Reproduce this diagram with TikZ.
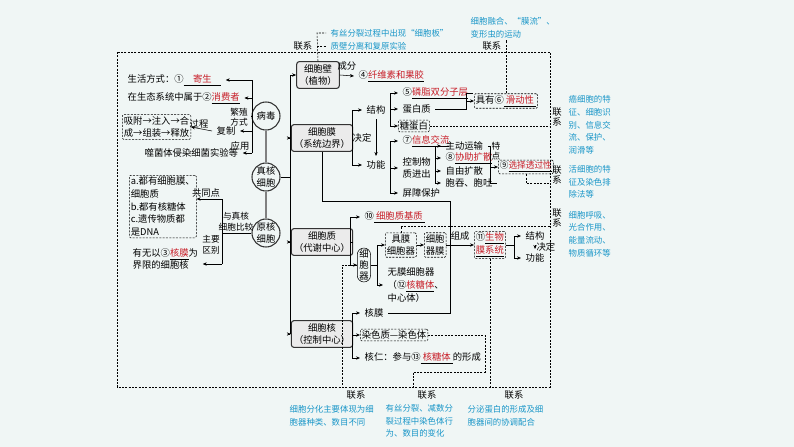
\documentclass[tikz,border=0pt]{standalone}
\usepackage{fontspec}
\setmainfont{Noto Sans CJK SC}
\usetikzlibrary{arrows.meta}
\definecolor{ansred}{RGB}{200,30,40}
\definecolor{tipblue}{RGB}{25,150,200}
\definecolor{bg}{RGB}{240,246,245}
\newcommand{\ans}[1]{\underline{\textcolor{ansred}{#1}}}

\begin{document}
\begin{tikzpicture}[x=0.75pt,y=-0.75pt,font=\fontsize{7}{9.5}\selectfont,every node/.style={align=center}]
\tikzstyle{part} = [rectangle, rounded corners=2pt, draw=black!80, fill=black!8, thick, align=center, inner sep=2pt]
\tikzstyle{kind} = [circle, draw=black!80, thick, minimum size=21pt, inner sep=0pt, align=center, font=\fontsize{7}{8.5}\selectfont]
\tikzstyle{dbox} = [draw, dash pattern=on 1.5pt off 1pt, rounded corners=1pt, inner sep=1.2pt, align=center]
\tikzstyle{tip} = [text=tipblue, align=left, anchor=west, font=\fontsize{6.3}{9.5}\selectfont]
\tikzstyle{arrow} = [->, >={Stealth[length=3pt,width=2.5pt]}]
\tikzstyle{link} = [dash pattern=on 1.5pt off 1pt]
\fill[bg] (0,0) rectangle (794,447);

% kinds of cells
\node[kind] (virus) at (266,116) {病毒};
\node[kind] (euk) at (266,177) {真核\\细胞};
\node[kind] (pro) at (266,233) {原核\\细胞};
\draw[gray, thick] (virus) -- (euk) -- (pro);

% virus
\node[anchor=west] (life) at (123,80) {生活方式：①\ans{\quad 寄生\quad}};
\node[anchor=west] (eco) at (123,98) {在生态系统中属于②\ans{消费者}};
\node[dbox, anchor=west, align=left] (proc) at (122,127) {吸附→注入→合\\成→组装→释放};
\node[anchor=west] (copy) at (212,131) {复制};
\node[anchor=west] (phage) at (140,153) {噬菌体侵染细菌实验等};
\node[font=\fontsize{6.5}{7.5}\selectfont] at (239,117) {繁殖\\方式};
\node at (240,146) {应用};
\node at (199,124) {过程};
\draw (virus.west) -- (252,116);
\draw (252,80) -- (252,153);
\draw[arrow] (252,80) -- (life.east);
\draw[arrow] (252,98) -- (eco.east);
\draw[arrow] (252,131) -- (copy.east);
\draw[arrow] (copy.west) -- (proc.east);
\draw[arrow] (252,153) -- (phage.east);

% prokaryote
\node[dbox, anchor=north west, align=left] (cmn) at (129,175) {a.都有细胞膜、\\细胞质\\b.都有核糖体\\c.遗传物质都\\是DNA};
\node[anchor=west, align=left] (diff) at (128,259) {有无以③\ans{核膜}为\\界限的细胞核};
\node at (206,193) {共同点};
\node[font=\fontsize{6.5}{8}\selectfont] at (236,222) {与真核\\细胞比较};
\node[font=\fontsize{6.5}{8}\selectfont] at (211,245) {主要\\区别};
\draw (pro.west) -- (222,233);
\draw (222,199) -- (222,264);
\draw[arrow] (222,199) -- (cmn.east |- 222,199);
\draw[arrow] (222,264) -- (diff.east |- 222,264);

% trunk
\node[part, minimum width=27pt] (wall) at (318,75) {细胞壁\\（植物）};
\node[part] (memb) at (322,138) {细胞膜\\（系统边界）};
\node[part] (cyto) at (322,242) {细胞质\\（代谢中心）};
\node[part] (nucl) at (322,334) {细胞核\\（控制中心）};
\draw (euk.east) -- (290,177);
\draw (290,75) -- (290,334);
\draw[arrow] (290,75) -- (wall.west);
\draw[arrow] (290,138) -- (memb.west);
\draw[arrow] (290,242) -- (cyto.west);
\draw[arrow] (290,334) -- (nucl.west);

% wall
\node[anchor=west] (cellu) at (354,76) {④\ans{纤维素和果胶}};
\draw[arrow] (wall.east) -- node[above] {成分} (cellu.west);

% membrane
\node[anchor=west] (struc) at (362,110) {结构};
\node[anchor=west] (func) at (362,165) {功能};
\draw (memb.east) -- (352,138);
\draw (352,110) -- (352,165);
\draw[arrow] (352,110) -- (struc.west);
\draw[arrow] (352,165) -- (func.west);
\draw[arrow] (struc.south) -- node[left] {决定} (func.north);
\node[anchor=west] (lip) at (398,93) {⑤\ans{磷脂双分子层}};
\node[anchor=west] (prot) at (398,109) {蛋白质};
\node[dbox, anchor=west] (glyc) at (398,126) {糖蛋白};
\node[dbox, anchor=west] (flu) at (474,101) {具有⑥\ans{\ 滑动性\ }};
\draw (struc.east) -- (390,110);
\draw (390,93) -- (390,126);
\draw[arrow] (390,93) -- (lip.west);
\draw[arrow] (390,109) -- (prot.west);
\draw[arrow] (390,126) -- (glyc.west);
\draw (lip.east) -| (466,109) -- (prot.east);
\draw[arrow] (466,101) -- (flu.west);
\node[anchor=west] (info) at (398,141) {⑦\ans{信息交流}};
\node[anchor=west, align=left] (ctrl) at (398,168) {控制物\\质进出};
\node[anchor=west] (barr) at (398,193) {屏障保护};
\draw (func.east) -- (390,165);
\draw (390,141) -- (390,193);
\draw[arrow] (390,141) -- (info.west);
\draw[arrow] (390,168) -- (ctrl.west);
\draw[arrow] (390,193) -- (barr.west);
\node[anchor=west] (act) at (441,146) {主动运输};
\node[anchor=west] (fac) at (441,158) {⑧\ans{协助扩散}};
\node[anchor=west] (free) at (441,171) {自由扩散};
\node[anchor=west] (endo) at (441,183) {胞吞、胞吐};
\draw (ctrl.east) -- (435,168);
\draw (435,146) -- (435,183);
\foreach \y/\n in {146/act,158/fac,171/free,183/endo}
  \draw[arrow] (435,\y) -- (\n.west);
\draw (act.east) -| (490,183) -- (endo.east);
\node[font=\fontsize{6.5}{7.5}\selectfont] at (496,151) {特\\点};
\node[dbox, anchor=west, font=\fontsize{6.5}{8}\selectfont] (sel) at (498,167) {⑨\ans{选择透过性}};
\draw[arrow] (490,167) -- (sel.west);

% cytoplasm
\node[anchor=west] (matrix) at (360,217) {⑩\ans{\ 细胞质基质\ }};
\node[draw, rounded corners=5pt, inner sep=1.5pt, anchor=west, font=\fontsize{7}{8}\selectfont] (orgn) at (357,265) {细\\胞\\器};
\draw (cyto.east) -- (350,242);
\draw (350,217) -- (350,265);
\draw[arrow] (350,217) -- (matrix.west);
\draw[arrow] (350,265) -- (orgn.west);
\node[dbox, anchor=west] (memorg) at (385,245) {具膜\\细胞器};
\node[anchor=west, align=left] (nomem) at (383,285) {无膜细胞器\\（⑫\ans{核糖体}、\\中心体）};
\draw (orgn.east) -- (377,265);
\draw (377,245) -- (377,285);
\draw[arrow] (377,245) -- (memorg.west);
\draw[arrow] (377,285) -- (nomem.west);
\node[dbox, anchor=west] (orgm) at (424,245) {细胞\\器膜};
\node[dbox, anchor=west] (bms) at (474,245) {⑪\ans{生物}\\\ans{膜系统}};
\draw[arrow] (memorg) -- (orgm);
\draw[arrow] (orgm) -- node[above] {组成} (bms);
\node[anchor=west] (s2) at (521,236) {结构};
\node[anchor=west] (f2) at (521,258) {功能};
\draw (bms.east) -- (514,245);
\draw (514,236) -- (514,258);
\draw[arrow] (514,236) -- (s2.west);
\draw[arrow] (514,258) -- (f2.west);
\draw[arrow] (s2.south) -- node[right, inner sep=1pt] {决定} (f2.north);

% nucleus
\node[anchor=west] (nm) at (360,313) {核膜};
\node[dbox, anchor=west] (chrom) at (360,335) {染色质—染色体};
\node[anchor=west] (nuc) at (360,358) {核仁：参与⑬\ans{\ 核糖体\ }的形成};
\draw (nucl.east) -- (352,334);
\draw (352,313) -- (352,358);
\draw[arrow] (352,313) -- (nm.west);
\draw[arrow] (352,335) -- (chrom.west);
\draw[arrow] (352,358) -- (nuc.west);
\draw (memb.south) |- (450,201) |- (nm.east);

% links
\node[tip] (tipA) at (326,33) {有丝分裂过程中出现“细胞板”};
\node[tip] (tipB) at (326,46) {质壁分离和复原实验};
\node[tip] (tipC) at (466,28) {细胞融合、“膜流”、\\变形虫的运动};
\draw[link] (117,52) rectangle (550,387);
\draw[link] (wall.north) -- (317,33) -- (tipA.west);
\draw[link] (317,46) -- (tipB.west);
\node[anchor=east] at (317,46) {联系};
\draw[link] (flu.north) -- (flu.north |- 0,40);
\node[anchor=east] at (flu.north |- 0,46) {联系};
\draw[link] (glyc.east) -- (550,126);
\draw[link] (sel.south) |- (550,183);
\draw[link] (memorg.north) |- (550,226);
\draw[link] (orgn.west) -| (342,387);
\draw[link] (bms.south) -- (bms.south |- 0,387);
\draw[link] (chrom.east) -| (485,372) -| (413,387);
\foreach \y in {117,175,218}
  \node[font=\fontsize{7}{8}\selectfont] at (557,\y) {联\\系};
\node[tip] at (564,125) {癌细胞的特\\征、细胞识\\别、信息交\\流、保护、\\润滑等};
\node[tip] at (564,182) {活细胞的特\\征及染色排\\除法等};
\node[tip] at (564,234) {细胞呼吸、\\光合作用、\\能量流动、\\物质循环等};
\foreach \x in {342,413,500}
  \node[anchor=west] at (\x,395) {联系};
\node[tip] at (285,416) {细胞分化主要体现为细\\胞器种类、数目不同};
\node[tip] at (381,421) {有丝分裂、减数分\\裂过程中染色体行\\为、数目的变化};
\node[tip] at (463,416) {分泌蛋白的形成及细\\胞器间的协调配合};
\end{tikzpicture}
\end{document}
